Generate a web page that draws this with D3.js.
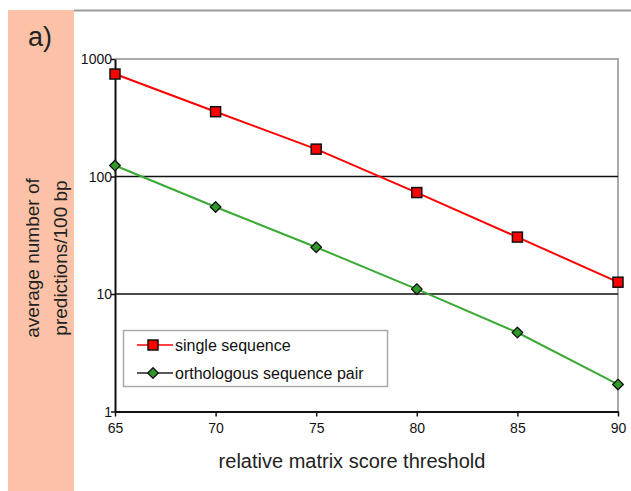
<!DOCTYPE html>
<html>
<head>
<meta charset="utf-8">
<script src="https://cdn.jsdelivr.net/npm/d3@7"></script>
<style>
  body { margin: 0; background: #fff; }
  svg { display: block; font-family: "Liberation Sans", Arial, sans-serif; }
</style>
</head>
<body>
<div id="chart"></div>
<script>
// data
const thresholds = [65, 70, 75, 80, 85, 90];
const singleSeq = [745, 356, 171, 73, 30.5, 12.6];
const orthoPair = [124, 55, 25, 11, 4.7, 1.7];
const yTicks = [1, 10, 100, 1000];
const seriesNames = ["single sequence", "orthologous sequence pair"];

const width = 631, height = 491;
const svg = d3.select("#chart").append("svg")
    .attr("width", width)
    .attr("height", height);

// pink panel behind the y title
svg.append("rect")
    .attr("x", 8).attr("y", 10)
    .attr("width", 66).attr("height", height - 10)
    .attr("fill", "#fcc2a7");

// outer frame top line
svg.append("line")
    .attr("x1", 74).attr("x2", width)
    .attr("y1", 10.5).attr("y2", 10.5)
    .attr("stroke", "#999").attr("stroke-width", 2);

svg.append("text")
    .attr("x", 28).attr("y", 46)
    .style("font-size", "27px")
    .attr("fill", "#222")
    .text("a)");

// scales
const x = d3.scaleLinear().domain([65, 90]).range([115, 618]);
const y = d3.scaleLog().domain([1, 1000]).range([411.5, 59]);

// plot frame: gray top and right
svg.append("path")
    .attr("d", `M${x(65)},${y(1000)}H${x(90)}V${y(1)}`)
    .attr("fill", "none")
    .attr("stroke", "#aaa")
    .attr("stroke-width", 2);

// gridlines at 10 and 100
svg.append("g")
    .selectAll("line")
    .data([10, 100])
    .join("line")
    .attr("x1", x(65)).attr("x2", x(90))
    .attr("y1", d => y(d)).attr("y2", d => y(d))
    .attr("stroke", "#111").attr("stroke-width", 1.5);

// axes
const xAxis = svg.append("g")
    .attr("transform", `translate(0,${y(1)})`)
    .call(d3.axisBottom(x).tickValues(thresholds).tickSize(5).tickSizeOuter(0).tickFormat(d3.format("d")));
const yAxis = svg.append("g")
    .attr("transform", `translate(${x(65)},0)`)
    .call(d3.axisLeft(y).tickValues(yTicks).tickSize(5).tickSizeOuter(0).tickFormat(d3.format("d")));

[xAxis, yAxis].forEach(a => {
  a.select(".domain").attr("stroke", "#111").attr("stroke-width", 2);
  a.selectAll(".tick line").attr("stroke", "#111").attr("stroke-width", 1.5);
  a.selectAll("text").style("font-size", "14px").attr("fill", "#111")
      .style("font-family", "'Liberation Sans', Arial, sans-serif");
});
xAxis.selectAll("text").attr("dy", "0.95em");
yAxis.selectAll(".tick text").attr("x", -3).attr("dy", "0.35em");
yAxis.selectAll(".tick line").attr("x2", -4);

// lines
const line = d3.line()
    .x((d, i) => x(thresholds[i]))
    .y(d => y(d));

svg.append("path")
    .datum(singleSeq)
    .attr("d", line)
    .attr("fill", "none")
    .attr("stroke", "#ff0000")
    .attr("stroke-width", 2);

svg.append("path")
    .datum(orthoPair)
    .attr("d", line)
    .attr("fill", "none")
    .attr("stroke", "#3aaa35")
    .attr("stroke-width", 2);

// markers
svg.append("g")
    .selectAll("rect")
    .data(singleSeq)
    .join("rect")
    .attr("x", (d, i) => x(thresholds[i]) - 5)
    .attr("y", d => y(d) - 5)
    .attr("width", 10).attr("height", 10)
    .attr("fill", "#ff0000")
    .attr("stroke", "#111").attr("stroke-width", 1.5);

const diamond = d3.symbol().type(d3.symbolDiamond2).size(72);
svg.append("g")
    .selectAll("path")
    .data(orthoPair)
    .join("path")
    .attr("transform", (d, i) => `translate(${x(thresholds[i])},${y(d)})`)
    .attr("d", diamond)
    .attr("fill", "#2f9a28")
    .attr("stroke", "#111").attr("stroke-width", 1.3)
    .attr("stroke-linejoin", "round");

// legend
const legend = svg.append("g");
legend.append("rect")
    .attr("x", 123.5).attr("y", 330.5)
    .attr("width", 264).attr("height", 56)
    .attr("fill", "#fff")
    .attr("stroke", "#aaa").attr("stroke-width", 1.5);

const legY = [345, 373];
legend.append("line")
    .attr("x1", 137).attr("x2", 173).attr("y1", legY[0]).attr("y2", legY[0])
    .attr("stroke", "#ff0000").attr("stroke-width", 1.5);
legend.append("rect")
    .attr("x", 148).attr("y", legY[0] - 5)
    .attr("width", 10).attr("height", 10)
    .attr("fill", "#ff0000").attr("stroke", "#111").attr("stroke-width", 1.5);
legend.append("line")
    .attr("x1", 137).attr("x2", 173).attr("y1", legY[1]).attr("y2", legY[1])
    .attr("stroke", "#222").attr("stroke-width", 1.5);
legend.append("path")
    .attr("transform", `translate(153,${legY[1]})`)
    .attr("d", diamond)
    .attr("fill", "#2f9a28").attr("stroke", "#111").attr("stroke-width", 1.3)
    .attr("stroke-linejoin", "round");

legend.selectAll("text.leg")
    .data(seriesNames)
    .join("text")
    .attr("class", "leg")
    .attr("x", 175)
    .attr("y", (d, i) => legY[i])
    .attr("dy", "0.35em")
    .style("font-size", "16px")
    .attr("fill", "#111")
    .text(d => d);

// axis titles
svg.append("text")
    .attr("x", 352).attr("y", 468)
    .attr("text-anchor", "middle")
    .style("font-size", "20px")
    .attr("fill", "#222")
    .text("relative matrix score threshold");

const yTitle = svg.append("text")
    .attr("transform", "translate(0,258) rotate(-90)")
    .attr("text-anchor", "middle")
    .style("font-size", "19px")
    .attr("fill", "#222");
yTitle.append("tspan").attr("x", 0).attr("y", 39).text("average number of");
yTitle.append("tspan").attr("x", 0).attr("y", 67).text("predictions/100 bp");
</script>
</body>
</html>
